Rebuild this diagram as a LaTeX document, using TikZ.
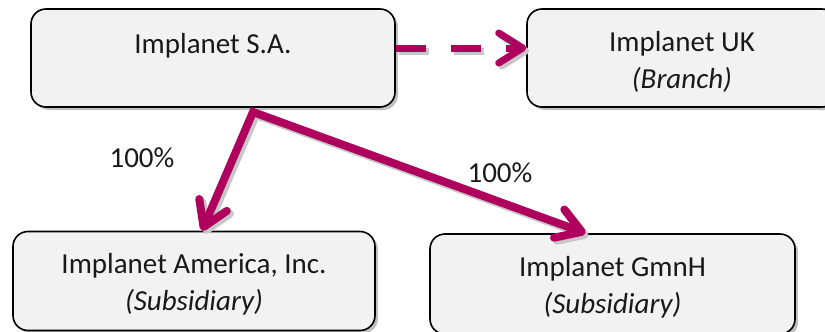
\documentclass[tikz,border=0pt]{standalone}
\usepackage{fontspec}
\setmainfont{Carlito}
\usetikzlibrary{arrows.meta,shadows}
\definecolor{berry}{RGB}{176,0,94}
\definecolor{boxfill}{RGB}{242,242,242}
\newcommand{\topstrut}{\rule{0pt}{27pt}}
\begin{document}
\begin{tikzpicture}[x=1pt,y=-1pt,
  orgbox/.style={draw=black, line width=1.6pt, fill=boxfill, rounded corners=15pt,
    align=center, font=\fontsize{29}{37}\selectfont, text=black!90,
    drop shadow={shadow xshift=3pt, shadow yshift=-3pt, fill=black, opacity=0.25}},
  lbl/.style={font=\fontsize{29}{37}\selectfont, text=black!90},
  tipb/.tip={Straight Barb[length=24pt,width=30pt,round]},
  link/.style={draw=berry, line width=8pt, line join=miter,
    preaction={draw=black!22, line width=8pt, line join=miter, tipb-tipb,
      transform canvas={shift={(3pt,-3pt)}}}},
  dlink/.style={draw=berry, line width=7pt, dash pattern=on 30pt off 25pt, -tipb,
    preaction={draw=black!22, line width=7pt, dash pattern=on 30pt off 25pt, -tipb,
      transform canvas={shift={(3pt,-3pt)}}}}
]
\useasboundingbox (0,0) rectangle (825,332);
\node[orgbox, minimum width=364pt, minimum height=98pt] (sa) at (213,58) {\topstrut Implanet S.A.\\~};
\node[orgbox, minimum width=310pt, minimum height=98pt] (uk) at (682,58) {\topstrut Implanet UK\\\textit{(Branch)}};
\node[orgbox, minimum width=362pt, minimum height=99pt] (am) at (194,281) {\topstrut Implanet America, Inc.\\\textit{(Subsidiary)}};
\node[orgbox, minimum width=365pt, minimum height=100pt] (gm) at (612.5,284) {\topstrut Implanet GmnH\\\textit{(Subsidiary)}};
\coordinate (split) at (253,112);
\draw[dlink] ([yshift=10pt]sa.east) -- ([yshift=10pt]uk.west);
\draw[link, tipb-tipb]
  ([xshift=8pt]am.north) -- (split) -- ([xshift=-27pt]gm.north);
\node[lbl] (p1) at (142,158) {100\%};
\node[lbl] (p2) at (500,173) {100\%};
\end{tikzpicture}
\end{document}
